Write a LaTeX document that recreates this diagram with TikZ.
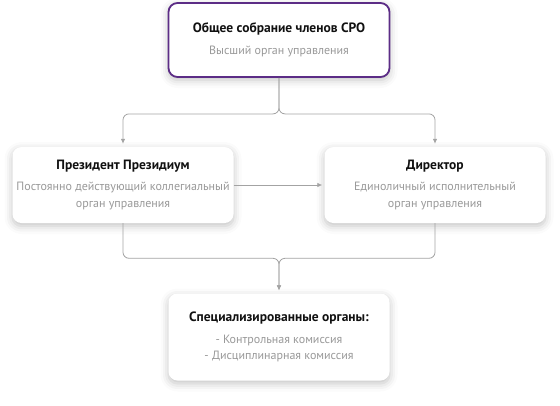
\documentclass[tikz,border=0pt]{standalone}
\usepackage{fontspec}
\setmainfont{PT Sans}
\usepackage{tikz}
\usetikzlibrary{positioning, calc, arrows.meta, shadows.blur}

\definecolor{sroPurple}{HTML}{5C2D86}
\definecolor{sroLine}{HTML}{A3A3A3}
\definecolor{sroGrey}{HTML}{999999}
\definecolor{sroTitle}{HTML}{111111}

\newcommand{\boxhead}[1]{{\fontsize{13.5}{16}\selectfont\bfseries\color{sroTitle}#1}\\[5pt]}

\begin{document}
\begin{tikzpicture}[x=1pt, y=-1pt, >={Latex[length=5pt,width=4.5pt]}, node distance=150pt, on grid,
		organ/.style={draw=none, fill=white, rounded corners=9pt, minimum width=221pt, minimum height=76pt,
			align=center, text=sroGrey, font=\fontsize{12}{16.5}\selectfont,
			blur shadow={shadow xshift=0pt, shadow yshift=-3pt, shadow blur radius=8pt, shadow opacity=24}},
		link/.style={draw=sroLine, line width=0.8pt, rounded corners=6pt}
	]
		\useasboundingbox (0,0) rectangle (560,405);
		\node[organ, draw=sroPurple, line width=1.8pt, minimum height=74pt]	(assembly)	at (279,40)	{\boxhead{Общее собрание членов СРО}Высший орган управления};
		\node[organ]								(presidium) [below left=145pt and 156pt of assembly]	{\boxhead{Президент Президиум}Постоянно действующий коллегиальный\\орган управления};
		\node[organ]								(director) [right=312pt of presidium]	{\boxhead{Директор}Единоличный исполнительный\\орган управления};
		\node[organ, minimum height=87pt]			(special) [below=297pt of assembly]	{\boxhead{Специализированные органы:}- Контрольная комиссия\\- Дисциплинарная комиссия};

		\coordinate (split) at ($(assembly.south)+(0,36)$);
		\coordinate (merge) at ($(special.north)+(0,-35)$);

		%Связи:
		\draw[link, ->] (assembly.south) -- (split) -| ($(presidium.north)+(0,-3)$);
		\draw[link, ->] (assembly.south) -- (split) -| ($(director.north)+(0,-3)$);
		\draw[link, ->, rounded corners=0pt] (presidium.east) -- ($(director.west)+(-2,0)$);
		\draw[link, ->] (presidium.south) |- (merge) -- ($(special.north)+(0,-3)$);
		\draw[link, ->] (director.south) |- (merge) -- ($(special.north)+(0,-3)$);
	\end{tikzpicture}
\end{document}
